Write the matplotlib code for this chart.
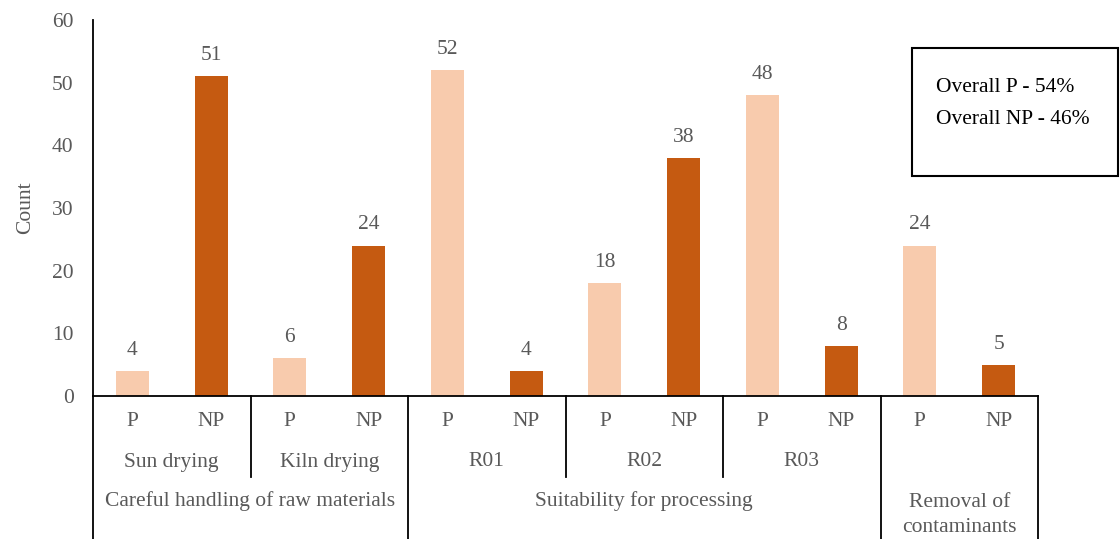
import matplotlib
matplotlib.use("Agg")
import matplotlib.pyplot as plt
from matplotlib.transforms import blended_transform_factory
from matplotlib.patches import Rectangle

series = ["P", "NP", "P", "NP", "P", "NP", "P", "NP", "P", "NP", "P", "NP"]
values = [4, 51, 6, 24, 52, 4, 18, 38, 48, 8, 24, 5]
subgroups = ["Sun drying", "Kiln drying", "R01", "R02", "R03", ""]
groups = ["Careful handling of raw materials", "Suitability for processing", "Removal of\ncontaminants"]
group_sizes = [2, 3, 1]  # number of subgroups in each group
yticks = [0, 10, 20, 30, 40, 50, 60]
notes = ["Overall P - 54%", "Overall NP - 46%"]

colors = {"P": "#F8CBAD", "NP": "#C55A11"}
txt = "#595959"
plt.rcParams["font.family"] = ["Liberation Serif", "DejaVu Serif"]
fs = 15.5

fig = plt.figure(figsize=(11.2, 5.39), dpi=100)
ax = fig.add_axes([93 / 1120, 1 - 396 / 539, (1038 - 93) / 1120, (396 - 20) / 539])

x = list(range(len(values)))
bars = ax.bar(x, values, width=0.42, color=[colors[s] for s in series], zorder=2)
for xi, v in zip(x, values):
    ax.annotate(str(v), (xi, v), xytext=(0, 8), textcoords="offset points",
                ha="center", va="bottom", color=txt, fontsize=fs)

ax.set_xlim(-0.5, len(values) - 0.5)
ax.set_ylim(0, 60)
ax.set_yticks(yticks)
ax.set_yticklabels([str(t) for t in yticks], color=txt, fontsize=fs)
ax.tick_params(axis="y", length=0, pad=14)
ax.set_xticks([])
for s in ["top", "right"]:
    ax.spines[s].set_visible(False)
ax.spines["left"].set_color("black")
ax.spines["bottom"].set_color("black")
ax.spines["left"].set_linewidth(1.3)
ax.spines["bottom"].set_linewidth(1.3)
ax.set_ylabel("Count", color=txt, fontsize=fs, labelpad=12)

tr = blended_transform_factory(ax.transData, ax.transAxes)
h = 376.0
y_row1 = -(421 - 396) / h
y_row2 = -(462 - 396) / h
y_row3 = -(501 - 396) / h
y_sub_bottom = -(477 - 396) / h
y_bottom = -(539 - 396) / h

for xi, s in zip(x, series):
    ax.text(xi, y_row1, s, transform=tr, ha="center", va="center", color=txt, fontsize=fs)

for i, sg in enumerate(subgroups):
    c = 2 * i + 0.5
    if sg:
        ax.text(c, y_row2, sg, transform=tr, ha="center", va="center", color=txt, fontsize=fs)

# separators
group_edges = [-0.5]
pos = -0.5
for n in group_sizes:
    pos += 2 * n
    group_edges.append(pos)
sub_edges = [-0.5 + 2 * i for i in range(len(subgroups) + 1)]
for e in sub_edges:
    if e in group_edges:
        ax.plot([e, e], [0, y_bottom], transform=tr, color="black", lw=1.3, clip_on=False)
    else:
        ax.plot([e, e], [0, y_sub_bottom], transform=tr, color="black", lw=1.3, clip_on=False)

for i, g in enumerate(groups):
    c = (group_edges[i] + group_edges[i + 1]) / 2
    if "\n" in g:
        ax.text(c, -(515 - 396) / h, g, transform=tr, ha="center", va="center",
                color=txt, fontsize=fs, linespacing=1.38)
    else:
        ax.text(c, y_row3, g, transform=tr, ha="center", va="center", color=txt, fontsize=fs)

# note box
fig.patches.append(Rectangle((912 / 1120, 1 - 176 / 539), (1118 - 912) / 1120, (176 - 48) / 539,
                             transform=fig.transFigure, fill=False, edgecolor="black", lw=1.5))
fig.text(936 / 1120, 1 - 87 / 539, notes[0], ha="left", va="center", color="black", fontsize=fs)
fig.text(936 / 1120, 1 - 119 / 539, notes[1], ha="left", va="center", color="black", fontsize=fs)

fig.savefig("out.png", dpi=100)
